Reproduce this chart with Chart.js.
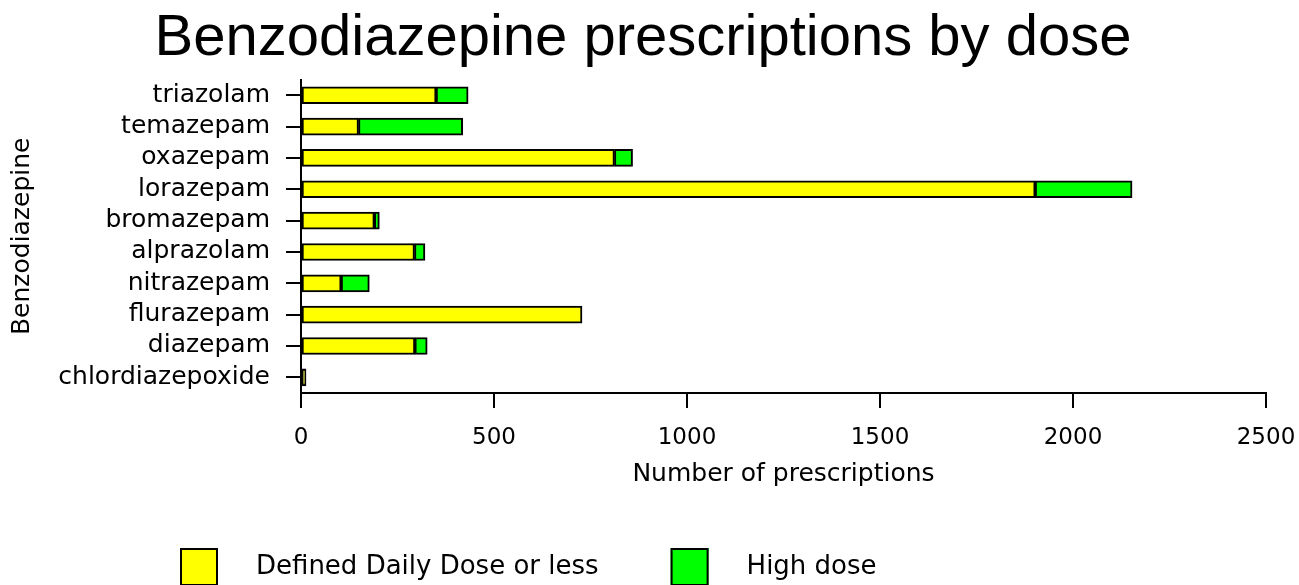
<!DOCTYPE html>
<html>
<head>
<meta charset="utf-8">
<script src="https://cdn.jsdelivr.net/npm/chart.js@4/dist/chart.umd.min.js"></script>
<style>
  html, body { margin: 0; padding: 0; background: #fff; }
  canvas { display: block; }
</style>
</head>
<body>
<canvas id="c" width="1299" height="585"></canvas>
<script>
const categories = ['triazolam','temazepam','oxazepam','lorazepam','bromazepam','alprazolam','nitrazepam','flurazepam','diazepam','chlordiazepoxide'];
const dddOrLess = [350, 149, 812, 1902, 190, 294, 104, 728, 295, 13];
const highDose  = [83, 270, 47, 251, 13, 27, 73, 0, 32, 0];
const seriesNames = ['Defined Daily Dose or less', 'High dose'];
const seriesColors = ['#ffff00', '#00ff00'];
const xTickValues = [0, 500, 1000, 1500, 2000, 2500];

const FONT = "'DejaVu Sans', sans-serif";

const bottomLegend = {
  id: 'bottomLegend',
  afterDraw(chart) {
    const ctx = chart.ctx;
    ctx.save();
    ctx.font = "26px " + FONT;
    ctx.textBaseline = 'middle';
    ctx.textAlign = 'left';
    let x = 180;
    const boxW = 38, boxH = 38, y = 548;
    chart.data.datasets.forEach((ds) => {
      ctx.fillStyle = ds.backgroundColor;
      ctx.fillRect(x, y, boxW, boxH);
      ctx.lineWidth = 2;
      ctx.strokeStyle = '#000';
      ctx.strokeRect(x + 1, y + 1, boxW - 2, boxH - 2);
      ctx.fillStyle = '#000';
      const tx = x + boxW + 38;
      ctx.fillText(ds.label, tx, y + boxH / 2);
      x = tx + ctx.measureText(ds.label).width + 72;
    });
    ctx.restore();
  }
};

new Chart(document.getElementById('c'), {
  type: 'bar',
  data: {
    labels: categories,
    datasets: [
      { label: seriesNames[0], data: dddOrLess, backgroundColor: seriesColors[0] },
      { label: seriesNames[1], data: highDose, backgroundColor: seriesColors[1] }
    ]
  },
  options: {
    indexAxis: 'y',
    responsive: false,
    animation: false,
    devicePixelRatio: 1,
    layout: { padding: { left: 20, right: 33, top: 0, bottom: 92 } },
    datasets: {
      bar: { borderColor: '#000', borderWidth: 2, borderSkipped: false, barThickness: 17 }
    },
    plugins: {
      legend: { display: false },
      tooltip: { enabled: false },
      title: {
        display: true,
        text: 'Benzodiazepine prescriptions by dose',
        color: '#000',
        font: { family: "'Liberation Sans', Arial, sans-serif", size: 58, weight: 'normal' },
        padding: { top: 4, bottom: 6 }
      }
    },
    scales: {
      x: {
        type: 'linear',
        stacked: true,
        min: 0, max: 2500,
        afterBuildTicks(scale) { scale.ticks = xTickValues.map(v => ({ value: v })); },
        afterFit(scale) { scale.height = 100; scale.paddingLeft = 0; scale.paddingRight = 0; },
        ticks: { color: '#000', font: { family: FONT, size: 23 }, padding: 16, maxRotation: 0, autoSkip: false,
                 callback: (v) => String(v) },
        grid: { drawOnChartArea: false, drawTicks: true, tickLength: 15, color: '#000', lineWidth: 2 },
        border: { display: true, color: '#000', width: 2 },
        title: { display: true, text: 'Number of prescriptions', color: '#000', font: { family: FONT, size: 25 }, padding: { top: 0, bottom: 4 } }
      },
      y: {
        stacked: true,
        afterFit(scale) { scale.width = 281; },
        ticks: { color: '#000', font: { family: FONT, size: 25 }, padding: 16, autoSkip: false },
        grid: { offset: false, drawOnChartArea: false, drawTicks: true, tickLength: 15, color: '#000', lineWidth: 2 },
        border: { display: true, color: '#000', width: 2 },
        title: { display: true, text: 'Benzodiazepine', color: '#000', font: { family: FONT, size: 25, lineHeight: '4px' }, padding: { top: 0, bottom: 0 } }
      }
    }
  },
  plugins: [bottomLegend]
});
</script>
</body>
</html>
